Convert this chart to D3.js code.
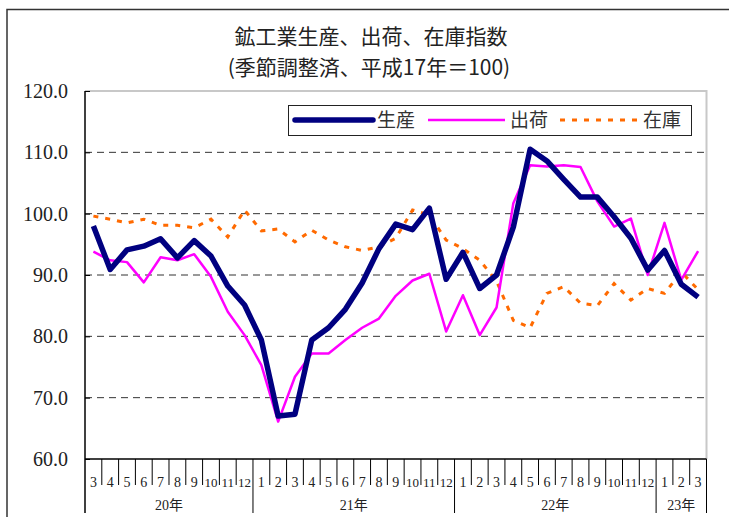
<!DOCTYPE html>
<html>
<head>
<meta charset="utf-8">
<script src="https://cdn.jsdelivr.net/npm/d3@7"></script>
<style>
  body { margin: 0; background: #fff; }
  svg { display: block; }
</style>
</head>
<body>
<div id="chart"></div>
<script>
// month labels (20年3月 〜 23年3月)
const months = [3,4,5,6,7,8,9,10,11,12, 1,2,3,4,5,6,7,8,9,10,11,12, 1,2,3,4,5,6,7,8,9,10,11,12, 1,2,3];
// year groups: label, first index, count
const yearLabels = ["20年", "21年", "22年", "23年"];
const yearStart = [0, 10, 22, 34];
const yearCount = [10, 12, 12, 3];

const production = [98.0, 90.9, 94.1, 94.7, 95.9, 92.8, 95.6, 93.1, 88.2, 85.1, 79.4, 67.0, 67.3,
  79.4, 81.4, 84.4, 88.7, 94.3, 98.3, 97.4, 100.9, 89.3, 93.7, 87.8, 90.0, 97.8, 110.5, 108.6,
  105.6, 102.7, 102.7, 99.5, 96.0, 90.8, 94.0, 88.5, 86.4];
const shipments = [93.8, 92.4, 92.1, 88.8, 92.9, 92.4, 93.4, 89.7, 84.0, 80.2, 75.3, 66.1, 73.4,
  77.2, 77.2, 79.4, 81.4, 82.9, 86.6, 89.1, 90.2, 80.8, 86.7, 80.2, 84.7, 101.7, 107.9, 107.7,
  107.9, 107.6, 102.0, 97.9, 99.2, 90.0, 98.5, 89.2, 93.9];
const inventory = [99.6, 99.1, 98.5, 99.1, 98.1, 98.1, 97.7, 99.1, 96.2, 100.6, 97.2, 97.5, 95.4,
  97.3, 95.7, 94.6, 94.0, 94.6, 96.0, 100.6, 99.8, 95.7, 94.3, 92.4, 89.0, 82.6, 81.4, 87.0,
  88.1, 85.4, 85.0, 88.6, 85.9, 87.8, 87.0, 90.5, 87.6];
const yTicks = [60, 70, 80, 90, 100, 110, 120];

const seriesNames = ["生産", "出荷", "在庫"];

const W = 729, H = 517;
const plotL = 85, plotR = 706.5, plotT = 91, plotB = 459;

const svg = d3.select("#chart").append("svg")
  .attr("width", W).attr("height", H);

svg.append("rect").attr("width", W).attr("height", H).attr("fill", "#fff");

// outer frame
svg.append("path")
  .attr("d", `M7,${H + 5} V9.5 H${W + 5}`)
  .attr("fill", "none").attr("stroke", "#333").attr("stroke-width", 1.5);

const x = d3.scaleBand().domain(d3.range(months.length)).range([plotL, plotR]);
const y = d3.scaleLinear().domain([60, 120]).range([plotB, plotT]);
const cx = i => x(i) + x.bandwidth() / 2;

// plot frame (top/right light gray)
svg.append("path")
  .attr("d", `M${plotL},${plotT} H${plotR} V${plotB}`)
  .attr("fill", "none").attr("stroke", "#c8c8c8").attr("stroke-width", 2);

// grid lines
svg.append("g").selectAll("line")
  .data(yTicks.filter(d => d > 60 && d < 120))
  .join("line")
  .attr("x1", plotL).attr("x2", plotR)
  .attr("y1", d => y(d)).attr("y2", d => y(d))
  .attr("stroke", "#333").attr("stroke-width", 1)
  .attr("stroke-dasharray", "7,5");

// y axis
const yAxis = svg.append("g")
  .attr("transform", `translate(${plotL},0)`)
  .call(d3.axisRight(y).tickValues(yTicks).tickSize(5).tickFormat(""));
yAxis.select(".domain").remove();
yAxis.selectAll("line").attr("stroke", "#000");
svg.append("line").attr("x1", plotL).attr("x2", plotL).attr("y1", plotT).attr("y2", 513)
  .attr("stroke", "#000").attr("stroke-width", 1.5);

svg.append("g").selectAll("text")
  .data(yTicks)
  .join("text")
  .attr("x", 68).attr("y", d => y(d) + 7)
  .attr("text-anchor", "end")
  .style("font-family", "'Liberation Serif', 'DejaVu Serif', serif")
  .style("font-size", "20px")
  .attr("fill", "#222")
  .text(d => d.toFixed(1));

// x axis
svg.append("line").attr("x1", plotL).attr("x2", plotR).attr("y1", plotB).attr("y2", plotB)
  .attr("stroke", "#000").attr("stroke-width", 1.5);

const xg = svg.append("g");
xg.selectAll("line.m")
  .data(d3.range(1, months.length))
  .join("line")
  .attr("class", "m")
  .attr("x1", i => x(i)).attr("x2", i => x(i))
  .attr("y1", plotB).attr("y2", i => yearStart.includes(i) ? 513 : 485)
  .attr("stroke", "#000").attr("stroke-width", 1);
xg.append("line")
  .attr("x1", plotR).attr("x2", plotR).attr("y1", plotB).attr("y2", 513)
  .attr("stroke", "#000").attr("stroke-width", 1);

xg.selectAll("text.m")
  .data(months)
  .join("text")
  .attr("class", "m")
  .attr("x", (d, i) => cx(i)).attr("y", 487)
  .attr("text-anchor", "middle")
  .style("font-family", "'Liberation Serif', 'DejaVu Serif', serif")
  .style("font-size", (d) => d >= 10 ? "13px" : "14px")
  .attr("fill", "#222")
  .text(d => d);

xg.selectAll("text.y")
  .data(yearLabels)
  .join("text")
  .attr("class", "y")
  .attr("x", (d, k) => x(yearStart[k]) + yearCount[k] * x.bandwidth() / 2)
  .attr("y", 510)
  .attr("text-anchor", "middle")
  .style("font-family", "'Liberation Serif', 'Noto Sans CJK JP', serif")
  .style("font-size", "14px")
  .attr("fill", "#222")
  .text(d => d);

// lines
const line = d3.line().x((d, i) => cx(i)).y(d => y(d));

svg.append("path").datum(inventory)
  .attr("d", line).attr("fill", "none")
  .attr("stroke", "#ff6a00").attr("stroke-width", 3)
  .attr("stroke-dasharray", "5,7");

svg.append("path").datum(shipments)
  .attr("d", line).attr("fill", "none")
  .attr("stroke", "#ff00ff").attr("stroke-width", 2.5)
  .attr("stroke-linejoin", "round");

svg.append("path").datum(production)
  .attr("d", line).attr("fill", "none")
  .attr("stroke", "#000080").attr("stroke-width", 5.5)
  .attr("stroke-linejoin", "round");

// legend
const lg = svg.append("g");
lg.append("rect").attr("x", 288.5).attr("y", 105.5).attr("width", 403).attr("height", 30)
  .attr("fill", "#fff").attr("stroke", "#222").attr("stroke-width", 1);
const legendItems = [
  { name: seriesNames[0], x1: 295, x2: 373, tx: 377, color: "#000080", w: 5.5, dash: null, cap: "round" },
  { name: seriesNames[1], x1: 428, x2: 505, tx: 510, color: "#ff00ff", w: 2.5, dash: null, cap: "butt" },
  { name: seriesNames[2], x1: 560, x2: 640, tx: 643, color: "#ff6a00", w: 3, dash: "5,7", cap: "butt" }
];
legendItems.forEach(it => {
  lg.append("line").attr("x1", it.x1).attr("x2", it.x2).attr("y1", 120).attr("y2", 120)
    .attr("stroke", it.color).attr("stroke-width", it.w)
    .attr("stroke-linecap", it.cap)
    .attr("stroke-dasharray", it.dash);
  lg.append("text").attr("x", it.tx).attr("y", 127)
    .style("font-family", "'Noto Sans CJK JP', sans-serif")
    .style("font-size", "19px")
    .attr("fill", "#333")
    .text(it.name);
});

// title
const title = svg.append("g").style("font-family", "'Noto Sans CJK JP', sans-serif")
  .attr("fill", "#222");
title.append("text").attr("x", 371).attr("y", 44).attr("text-anchor", "middle")
  .style("font-size", "21px").text("鉱工業生産、出荷、在庫指数");
title.append("text").attr("x", 369).attr("y", 75).attr("text-anchor", "middle")
  .style("font-size", "21px").text("(季節調整済、平成17年＝100)");
</script>
</body>
</html>
